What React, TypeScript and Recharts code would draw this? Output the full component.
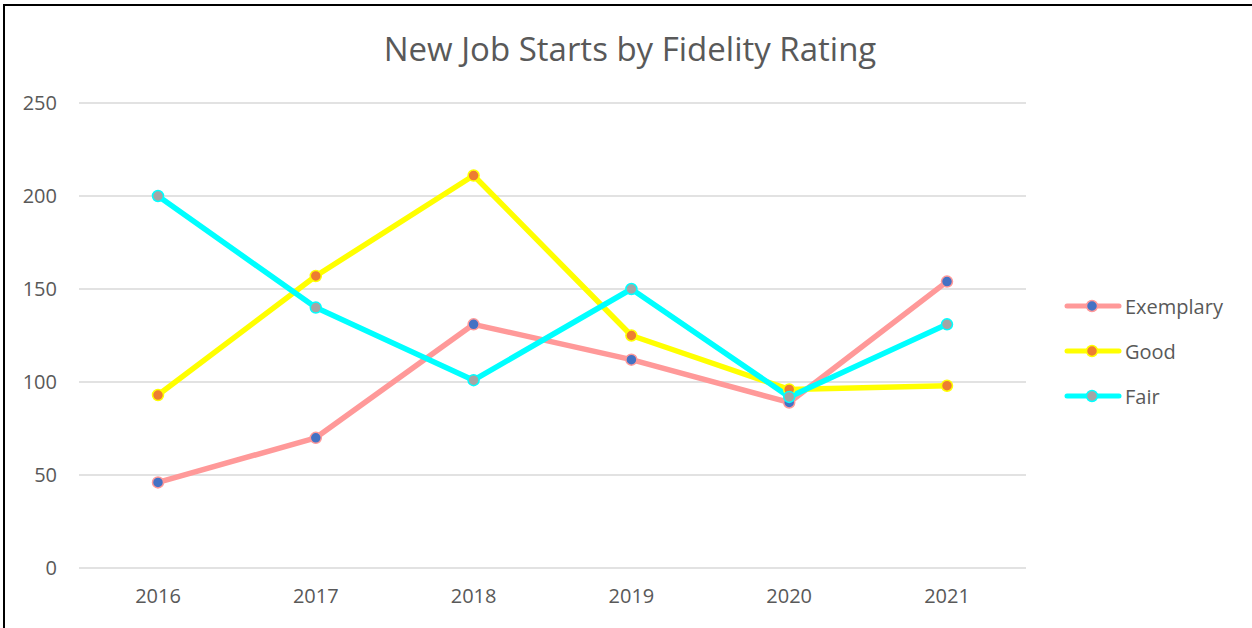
import { CartesianGrid, Line, LineChart, XAxis, YAxis } from "recharts";

const years = ["2016", "2017", "2018", "2019", "2020", "2021"];
const exemplary = [46, 70, 131, 112, 89, 154];
const good = [93, 157, 211, 125, 96, 98];
const fair = [200, 140, 101, 150, 92, 131];
const yTicks = [0, 50, 100, 150, 200, 250];

const SERIES = [
  { key: "Exemplary", values: exemplary, line: "#FF9999", dot: "#4472C4" },
  { key: "Good", values: good, line: "#FFFF00", dot: "#ED7D31" },
  { key: "Fair", values: fair, line: "#00FFFF", dot: "#A5A5A5" },
];

const W = 1252;
const H = 628;
const FONT = "'Open Sans', 'Noto Sans', sans-serif";
const TEXT = "#595959";

const rows = years.map((y, i) => {
  const row: Record<string, string | number> = { year: y };
  SERIES.forEach((s) => {
    row[s.key] = s.values[i];
  });
  return row;
});

function LegendBox() {
  return (
    <div style={{ display: "flex", flexDirection: "column", gap: 19, fontFamily: FONT }}>
      {SERIES.map((s) => (
        <div key={s.key} style={{ display: "flex", alignItems: "center", height: 26 }}>
          <svg width={58} height={14} style={{ marginRight: 3 }}>
            <line x1={3} y1={7} x2={55} y2={7} stroke={s.line} strokeWidth={5} strokeLinecap="round" />
            <circle cx={28} cy={7} r={5.5} fill={s.dot} stroke={s.line} strokeWidth={1.5} />
          </svg>
          <span style={{ color: TEXT, fontSize: 20 }}>{s.key}</span>
        </div>
      ))}
    </div>
  );
}

export default function App() {
  return (
    <div style={{ position: "fixed", inset: 0, overflow: "hidden", background: "#fff" }}>
      <div
        style={{
          position: "absolute",
          left: 3,
          top: 4,
          width: W + 20,
          height: H + 20,
          borderLeft: "2px solid #000",
          borderTop: "2px solid #000",
        }}
      />
      <div
        style={{
          position: "absolute",
          left: 0,
          top: 26,
          width: W,
          textAlign: "center",
          fontFamily: FONT,
          fontSize: 33,
          color: TEXT,
          paddingLeft: 8,
          boxSizing: "border-box",
          whiteSpace: "nowrap",
        }}
      >
        New Job Starts by Fidelity Rating
      </div>
      <div style={{ position: "absolute", left: 0, top: 0 }}>
        <LineChart width={W} height={H} data={rows} margin={{ top: 103, right: 226, bottom: 20, left: 19 }}>
          <CartesianGrid vertical={false} stroke="#D9D9D9" strokeWidth={1.5} />
          <XAxis
            dataKey="year"
            axisLine={false}
            tickLine={false}
            tickSize={0}
            tickMargin={21}
            height={40}
            padding={{ left: 79, right: 79 }}
            tick={{ fill: TEXT, fontSize: 20, fontFamily: FONT }}
          />
          <YAxis
            domain={[0, 250]}
            ticks={yTicks}
            axisLine={false}
            tickLine={false}
            tickSize={0}
            tickMargin={22}
            width={60}
            tick={{ fill: TEXT, fontSize: 20, fontFamily: FONT }}
          />
          {SERIES.map((s) => (
            <Line
              key={s.key}
              type="linear"
              dataKey={s.key}
              stroke={s.line}
              strokeWidth={5.5}
              strokeLinejoin="round"
              strokeLinecap="round"
              dot={{ r: 5.5, fill: s.dot, stroke: s.line, strokeWidth: 1.5 }}
              activeDot={false}
              isAnimationActive={false}
            />
          ))}
        </LineChart>
      </div>
      <div style={{ position: "absolute", left: 1064, top: 293 }}>
        <LegendBox />
      </div>
    </div>
  );
}
